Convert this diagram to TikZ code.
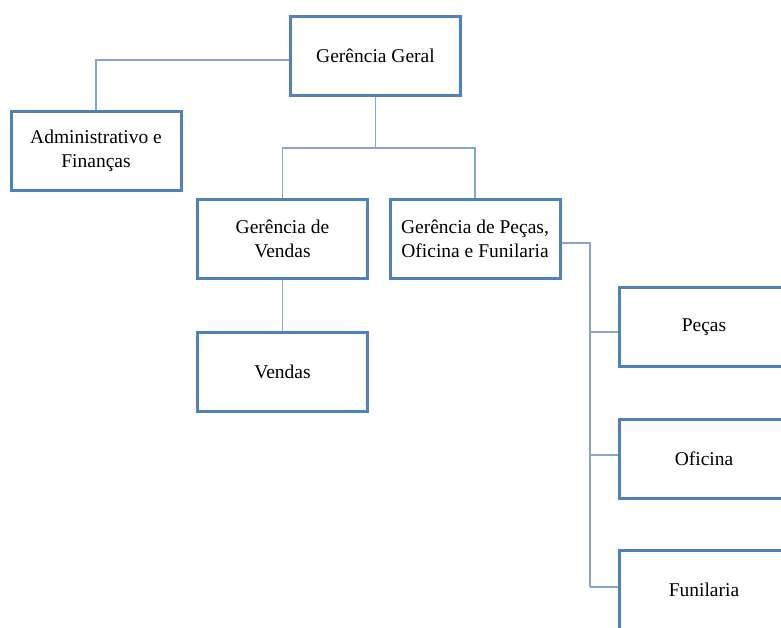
\documentclass[tikz,border=0pt]{standalone}
\usepackage{fontspec}
\setmainfont{Liberation Serif}
\definecolor{boxblue}{RGB}{79,129,189}
\definecolor{linkblue}{RGB}{135,165,210}
\begin{document}
\begin{tikzpicture}[x=1pt,y=-1pt,
  orgbox/.style={draw=boxblue, line width=3pt, fill=white, minimum width=170pt, minimum height=79pt,
    inner sep=0pt, align=center, font=\fontsize{19.5}{23.5}\selectfont},
  link/.style={draw=linkblue, line width=1.3pt}]
\useasboundingbox (0,0) rectangle (781,628);
\clip (0,0) rectangle (781,628);
\fill[white] (0,0) rectangle (781,628);
\node[orgbox] (GG) at (375.5,56) {Gerência Geral};
\node[orgbox] (AF) at (96,151) {Administrativo e\\Finanças};
\node[orgbox] (GV) at (282.5,239) {Gerência de\\Vendas};
\node[orgbox] (GP) at (475,239) {Gerência de Peças,\\Oficina e Funilaria};
\node[orgbox] (VE) at (282.5,371.5) {Vendas};
\node[orgbox] (PE) at (704,327) {Peças};
\node[orgbox] (OF) at (704,458.5) {Oficina};
\node[orgbox] (FU) at (704,590) {Funilaria};
\coordinate (j1) at (375.5,148);
\coordinate (b0) at (590,243);
\coordinate (b1) at (590,332);
\coordinate (b2) at (590,455);
\coordinate (b3) at (590,587);
\draw[link] ([yshift=-4pt]GG.west) -| (AF.north);
\draw[link] (GG.south) -- (j1);
\draw[link] (GV.north) |- (j1) -| (GP.north);
\draw[link] (GV.south) -- (VE.north);
\draw[link] (GP.east |- b0) -- (b0) -- (b3);
\draw[link] (b1) -- (b1 -| PE.west);
\draw[link] (b2) -- (b2 -| OF.west);
\draw[link] (b3) -- (b3 -| FU.west);
\end{tikzpicture}
\end{document}
